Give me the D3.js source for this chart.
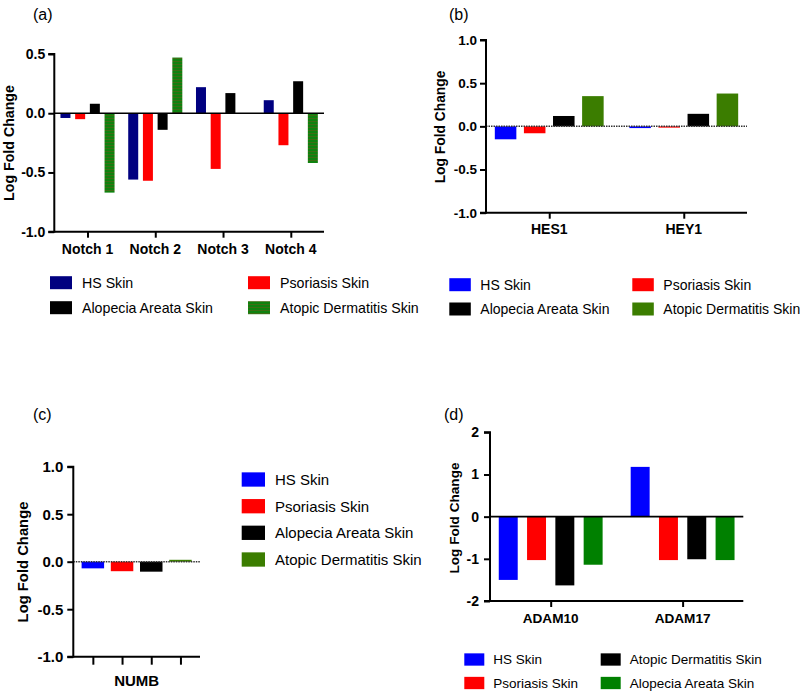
<!DOCTYPE html>
<html><head><meta charset="utf-8">
<script src="https://cdn.jsdelivr.net/npm/d3@7"></script>
<style>
body{margin:0;background:#fff;}
svg{display:block;font-family:"Liberation Sans",Arial,sans-serif;}
</style></head>
<body>
<svg id="chart" width="800" height="693"></svg>
<script>
// ---------- DATA ----------
// (a) Notch receptors
const notchGenes = ["Notch 1","Notch 2","Notch 3","Notch 4"];
const notchSeries = ["HS Skin","Psoriasis Skin","Alopecia Areata Skin","Atopic Dermatitis Skin"];
const notchHS  = [-0.04,-0.56, 0.22, 0.11];
const notchPso = [-0.05,-0.57,-0.47,-0.27];
const notchAA  = [ 0.08,-0.14, 0.17, 0.27];
const notchAD  = [-0.67, 0.47, 0.00,-0.42];
const notchTicks = [-1.0,-0.5,0.0,0.5];

// (b) HES1 / HEY1
const hesGenes = ["HES1","HEY1"];
const hesSeries = ["HS Skin","Psoriasis Skin","Alopecia Areata Skin","Atopic Dermatitis Skin"];
const hesHS  = [-0.15,-0.02];
const hesPso = [-0.08,-0.015];
const hesAA  = [ 0.12, 0.145];
const hesAD  = [ 0.35, 0.38];
const hesTicks = [-1.0,-0.5,0.0,0.5,1.0];

// (c) NUMB
const numbGenes = ["NUMB"];
const numbSeries = ["HS Skin","Psoriasis Skin","Alopecia Areata Skin","Atopic Dermatitis Skin"];
const numbHS  = [-0.07];
const numbPso = [-0.10];
const numbAA  = [-0.105];
const numbAD  = [ 0.02];
const numbTicks = [-1.0,-0.5,0.0,0.5,1.0];

// (d) ADAM10 / ADAM17
const adamGenes = ["ADAM10","ADAM17"];
const adamSeries = ["HS Skin","Psoriasis Skin","Atopic Dermatitis Skin","Alopecia Areata Skin"];
const adamHS  = [-1.50, 1.18];
const adamPso = [-1.03,-1.03];
const adamAD  = [-1.63,-1.01];
const adamAA  = [-1.14,-1.03];
const adamTicks = [-2,-1,0,1,2];

// ---------- DRAW ----------
const svg = d3.select("#chart");
const defs = svg.append("defs");
const pat = defs.append("pattern").attr("id","hatchGreen").attr("patternUnits","userSpaceOnUse")
  .attr("width",4).attr("height",3);
pat.append("rect").attr("width",4).attr("height",3).attr("fill","#0f820f");
pat.append("rect").attr("y",1).attr("width",4).attr("height",1).attr("fill","#3f6d14");

const fmt1 = d => d.toFixed(1);
const fmt0 = d => String(d);

function panel(o){
  const g = svg.append("g");
  const y = d3.scaleLinear().domain(o.domain).range([o.yBottom,o.yTop]);
  const x = d3.scalePoint().domain(o.genes).range([o.xLeft,o.xRight]).padding(o.xPad);
  const inner = d3.scaleBand().domain(o.series).range([-o.halfGroup,o.halfGroup])
    .paddingInner(o.pin).paddingOuter(o.pin/2);
  // bars
  o.series.forEach((s,si)=>{
    g.selectAll(null).data(o.values[si]).enter().append("rect")
      .attr("x",(d,i)=>x(o.genes[i])+inner(s))
      .attr("width",inner.bandwidth())
      .attr("y",d=>Math.min(y(d),y(0)))
      .attr("height",d=>Math.abs(y(d)-y(0)))
      .attr("fill",o.colors[si]);
  });
  // zero line
  g.append("line").attr("x1",o.xLeft).attr("x2",o.xRight).attr("y1",y(0)).attr("y2",y(0))
    .attr("stroke",o.dotted?"#333":"#000").attr("stroke-width",o.dotted?1.5:1.6)
    .attr("stroke-dasharray",o.dotted?"1.5,1":null);
  // y axis
  const ya = g.append("g").attr("transform",`translate(${o.xLeft},0)`)
    .call(d3.axisLeft(y).tickValues(o.ticks).tickFormat(o.fmt).tickSize(6).tickPadding(o.tickPad));
  ya.select(".domain").attr("stroke-width",2).attr("d",`M-6,${o.yTop}H0V${o.yBottom}H-6`);
  ya.selectAll(".tick line").attr("stroke-width",2);
  ya.selectAll("text").attr("font-size",o.tickFs).attr("font-weight","bold").attr("fill","#000")
    .attr("font-family","Liberation Sans, Arial, sans-serif");
  // x axis
  const xa = g.append("g").attr("transform",`translate(0,${o.yBottom})`);
  if(o.tickEachBar){
    const barPos = o.series.map(s=>x(o.genes[0])+inner(s)+inner.bandwidth()/2);
    const xs = d3.scaleOrdinal().domain(o.series).range(barPos);
    xa.call(d3.axisBottom(xs).tickSize(8).tickFormat(""));
    xa.select(".domain").remove();
    xa.append("line").attr("x1",o.xLeft).attr("x2",o.xRight).attr("stroke","#000").attr("stroke-width",2);
    xa.selectAll(".tick line").attr("stroke-width",2);
  } else {
    xa.call(d3.axisBottom(x).tickSize(6).tickFormat(""));
    xa.select(".domain").attr("stroke-width",2).attr("d",`M${o.xLeft},0H${o.xRight}`);
    xa.selectAll(".tick line").attr("stroke-width",2);
  }
  g.selectAll(null).data(o.genes).enter().append("text")
    .attr("x",d=>x(d)).attr("y",o.xLabY).attr("text-anchor","middle")
    .attr("font-size",o.xFs).attr("font-weight","bold").text(d=>d);
  // y title
  g.append("text").attr("transform",`translate(${o.yTitleX},${o.yTitleY}) rotate(-90)`)
    .attr("text-anchor","middle").attr("font-size",o.yTitleFs).attr("font-weight","bold").text("Log Fold Change");
  // panel label
  g.append("text").attr("x",o.labX).attr("y",o.labY).attr("font-size",16).text(o.label);
  // legend
  o.legend.forEach((L)=>{
    const si = L.i;
    g.append("rect").attr("x",L.x).attr("y",L.y-o.swH/2).attr("width",o.swW).attr("height",o.swH)
      .attr("fill",o.colors[si]);
    g.append("text").attr("x",L.x+o.swW+o.legGap).attr("y",L.y).attr("dy","0.36em")
      .attr("font-size",o.legFs).text(o.series[si]);
  });
}

panel({
  label:"(a)", labX:33, labY:20,
  genes:notchGenes, series:notchSeries, values:[notchHS,notchPso,notchAA,notchAD],
  colors:["#000080","#ff0000","#000000","url(#hatchGreen)"],
  domain:[-1,0.5], ticks:notchTicks, fmt:fmt1,
  yTop:54, yBottom:231.7, xLeft:54.3, xRight:324, xPad:0.49,
  halfGroup:29.4, pin:0.32, tickPad:3, tickFs:14, xFs:14, xLabY:253.5,
  yTitleX:14, yTitleY:143, yTitleFs:14.2,
  swW:22, swH:13, legGap:10, legFs:14.2,
  legend:[{i:0,x:50,y:282.7},{i:1,x:248,y:282.7},{i:2,x:50,y:307.7},{i:3,x:248,y:307.7}]
});

panel({
  label:"(b)", labX:449, labY:20,
  genes:hesGenes, series:hesSeries, values:[hesHS,hesPso,hesAA,hesAD],
  colors:["#0000ff","#ff0000","#000000","#3b7d00"], dotted:true,
  domain:[-1,1], ticks:hesTicks, fmt:fmt1,
  yTop:40, yBottom:212.7, xLeft:486, xRight:747, xPad:0.47,
  halfGroup:58.2, pin:0.26, tickPad:3, tickFs:13.5, xFs:14, xLabY:234,
  yTitleX:445, yTitleY:127, yTitleFs:13.8,
  swW:21.5, swH:13, legGap:9.5, legFs:14,
  legend:[{i:0,x:449.3,y:284.7},{i:1,x:632.3,y:284.7},{i:2,x:449.3,y:309},{i:3,x:632.3,y:309}]
});

panel({
  label:"(c)", labX:33, labY:420,
  genes:numbGenes, series:numbSeries, values:[numbHS,numbPso,numbAA,numbAD],
  colors:["#0000ff","#ff0000","#000000","#3b7d00"], dotted:true, tickEachBar:true,
  domain:[-1,1], ticks:numbTicks, fmt:fmt1,
  yTop:466.7, yBottom:656.7, xLeft:73.3, xRight:200, xPad:0.5,
  halfGroup:58.4, pin:0.23, tickPad:4, tickFs:15, xFs:15, xLabY:686,
  yTitleX:28, yTitleY:562, yTitleFs:14.8,
  swW:23.3, swH:14.3, legGap:10, legFs:15,
  legend:[{i:0,x:241.7,y:479.5},{i:1,x:241.7,y:506.2},{i:2,x:241.7,y:532.8},{i:3,x:241.7,y:559.5}]
});

panel({
  label:"(d)", labX:444, labY:420,
  genes:adamGenes, series:adamSeries, values:[adamHS,adamPso,adamAD,adamAA],
  colors:["#0000ff","#ff0000","#000000","#008000"],
  domain:[-2,2], ticks:adamTicks, fmt:fmt0,
  yTop:432.3, yBottom:601, xLeft:490, xRight:743.3, xPad:0.46,
  halfGroup:56.6, pin:0.33, tickPad:5, tickFs:14, xFs:13.6, xLabY:622.7,
  yTitleX:459, yTitleY:518, yTitleFs:13.6,
  swW:20, swH:12.3, legGap:9, legFs:13.5,
  legend:[{i:0,x:464.3,y:659.5},{i:1,x:464.3,y:683},{i:2,x:600.7,y:659.5},{i:3,x:600.7,y:683}]
});
</script>
</body></html>
